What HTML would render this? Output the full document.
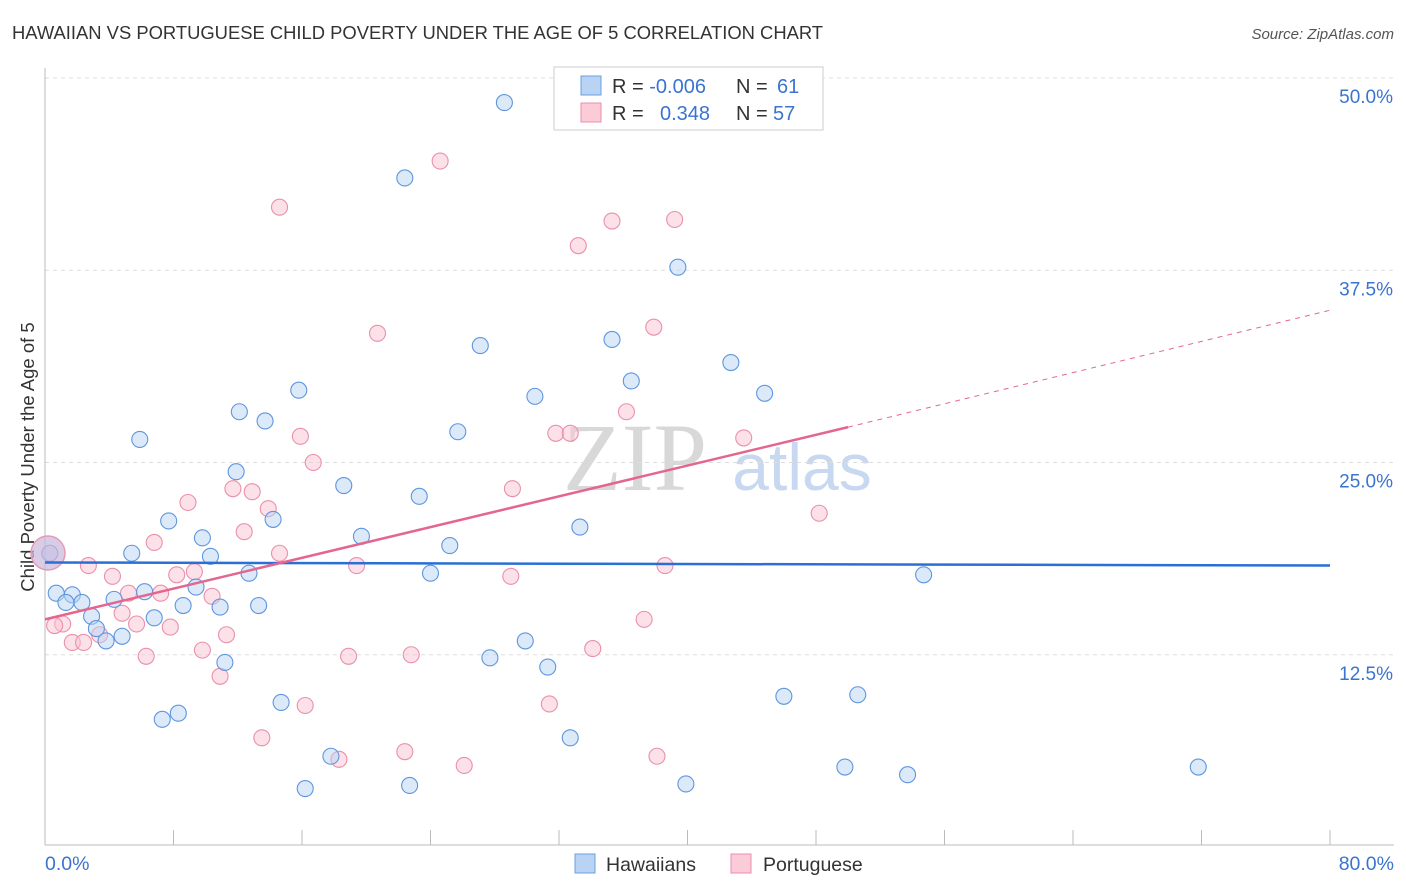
<!DOCTYPE html>
<html><head><meta charset="utf-8"><style>
body{margin:0;background:#fff;font-family:"Liberation Sans",sans-serif}
svg{display:block}
</style></head><body>
<svg id="c" width="1406" height="892" xmlns="http://www.w3.org/2000/svg">
<text x="12" y="39" font-size="18.4" fill="#333">HAWAIIAN VS PORTUGUESE CHILD POVERTY UNDER THE AGE OF 5 CORRELATION CHART</text>
<text x="1394" y="39" font-size="15" fill="#555" font-style="italic" text-anchor="end">Source: ZipAtlas.com</text>
<text x="34" y="457" font-size="18.5" fill="#333" text-anchor="middle" transform="rotate(-90 34 457)">Child Poverty Under the Age of 5</text>
<text x="635" y="490" font-size="96" fill="#d8d8d8" font-family="Liberation Serif,serif" text-anchor="middle">ZIP</text>
<text x="802" y="490" font-size="66" fill="#c8d8f0" text-anchor="middle">atlas</text>
<g id="grid"></g><g id="axes"></g><g id="pts"></g><g id="lines"></g>
<g>
<rect x="554" y="67" width="269" height="63" fill="#fff" stroke="#ccc"/>
<rect x="581" y="76" width="20" height="19" fill="#b8d3f3" stroke="#6a9fe0"/>
<rect x="581" y="103" width="20" height="19" fill="#fbcbd8" stroke="#eb8fac"/>
<text x="612" y="93" font-size="20" fill="#333">R = <tspan fill="#3a74d0">-0.006</tspan><tspan x="736">N = </tspan><tspan x="777" fill="#3a74d0">61</tspan></text>
<text x="612" y="120" font-size="20" fill="#333">R = <tspan x="660" fill="#3a74d0">0.348</tspan><tspan x="736">N = </tspan><tspan x="773" fill="#3a74d0">57</tspan></text>
</g>
<g>
<rect x="575" y="854" width="20" height="19" fill="#b8d3f3" stroke="#6a9fe0"/>
<text x="606" y="871" font-size="19.5" fill="#333">Hawaiians</text>
<rect x="731" y="854" width="20" height="19" fill="#fbcbd8" stroke="#eb8fac"/>
<text x="763" y="871" font-size="19.5" fill="#333">Portuguese</text>
</g>
</svg>
<script>
const yTicks=[12.5,25,37.5,50];
const yTickLabels=["12.5%","25.0%","37.5%","50.0%"];
const xLabels=["0.0%","80.0%"];
const blueX=[28.6,22.4,39.4,27.1,35.3,42.7,36.5,15.8,30.5,44.8,12.1,13.7,25.7,5.9,11.9,18.6,23.3,7.7,14.2,19.7,33.3,9.8,5.4,10.3,25.2,0.3,12.7,24.0,54.7,0.7,1.7,6.2,1.3,2.3,4.3,9.4,8.6,10.9,13.3,2.9,6.8,3.2,4.8,3.8,29.9,27.7,31.3,11.2,14.7,46.0,50.6,8.3,7.3,32.7,17.8,49.8,53.7,71.8,16.2,22.7,39.9];
const blueY=[48.4,43.5,37.7,32.6,33.0,31.5,30.3,29.7,29.3,29.5,28.3,27.7,27.0,26.5,24.4,23.5,22.8,21.2,21.3,20.2,20.8,20.1,19.1,18.9,19.6,19.1,17.8,17.8,17.7,16.5,16.4,16.6,15.9,15.9,16.1,16.9,15.7,15.6,15.7,15.0,14.9,14.2,13.7,13.4,13.4,12.3,11.7,12.0,9.4,9.8,9.9,8.7,8.3,7.1,5.9,5.2,4.7,5.2,3.8,4.0,4.1];
const pinkX=[24.6,14.6,35.3,39.2,33.2,20.7,37.9,36.2,15.9,31.8,32.7,43.5,16.7,8.9,11.7,12.9,29.1,48.2,13.9,12.4,6.8,14.6,2.7,19.4,38.6,4.2,8.2,9.3,29.0,5.2,7.2,10.4,4.8,1.1,0.6,5.7,7.8,3.4,11.3,1.7,2.4,9.8,34.1,37.3,6.3,18.9,22.8,10.9,16.2,31.4,13.5,22.4,18.3,26.1,38.1];
const pinkY=[44.6,41.6,40.7,40.8,39.1,33.4,33.8,28.3,26.7,26.9,26.9,26.6,25.0,22.4,23.3,23.1,23.3,21.7,22.0,20.5,19.8,19.1,18.3,18.3,18.3,17.6,17.7,17.9,17.6,16.5,16.5,16.3,15.2,14.5,14.4,14.5,14.3,13.8,13.8,13.3,13.3,12.8,12.9,14.8,12.4,12.4,12.5,11.1,9.2,9.3,7.1,6.2,5.7,5.3,5.9];
const blueLine=[18.5,18.3];
const pinkLine=[14.8,27.3,34.9];
const pinkLineX=[0,50,80];
const X0=45,X1=1330,Y0=847,PY=15.38;
const sx=v=>X0+v*(X1-X0)/80, sy=v=>Y0-v*PY;
const NS="http://www.w3.org/2000/svg";
function mk(p,t,a){const e=document.createElementNS(NS,t);for(const k in a)e.setAttribute(k,a[k]);document.getElementById(p).appendChild(e);return e;}
yTicks.forEach((v,i)=>{
 const g=mk('grid','line',{x1:X0,x2:1394,y1:sy(v),y2:sy(v),stroke:'#ddd','stroke-dasharray':'4,4'});
 
 
 const t=mk('grid','text',{x:1393,y:sy(v)+25,'font-size':19,fill:'#3a74d0','text-anchor':'end'});
 t.textContent=yTickLabels[i];
 
 
});
const ax=mk('axes','line',{x1:X0,x2:X0,y1:68,y2:845,stroke:'#bbb'});


const bx=mk('axes','line',{x1:X0,x2:1394,y1:845,y2:845,stroke:'#bbb'});


for(let i=0;i<=10;i++){
 const t=mk('axes','line',{x1:sx(i*8),x2:sx(i*8),y1:830,y2:845,stroke:'#bbb'});
 
 
}
[[0,'start',45],[80,'end',1394]].forEach((d,i)=>{
 const t=mk('axes','text',{x:d[2],y:870,'font-size':19.5,fill:'#3a74d0','text-anchor':d[1]});
 t.textContent=xLabels[i];
 
 
});
function pts(xs,ys,fill,stroke,name){
 xs.forEach((x,i)=>{
  const c=mk('pts','circle',{cx:sx(x),cy:sy(ys[i]),r:8,fill:fill,'fill-opacity':0.5,stroke:stroke,'stroke-width':1.1});
  
  
 });
}
pts(pinkX,pinkY,'#f9c3d2','#eb8fac','point-portuguese');
pts(blueX,blueY,'#b8d3f3','#5e96de','point-hawaiians');
const bb=mk('pts','circle',{cx:48,cy:553,r:17,fill:'#c9b6dc','fill-opacity':0.7,stroke:'#e79ab4','stroke-width':1.5});


const bl=mk('lines','line',{x1:sx(0),x2:sx(80),y1:sy(blueLine[0]),y2:sy(blueLine[1]),stroke:'#2a6fd6','stroke-width':2.5});


const pl=mk('lines','line',{x1:sx(pinkLineX[0]),x2:sx(pinkLineX[1]),y1:sy(pinkLine[0]),y2:sy(pinkLine[1]),stroke:'#e4668f','stroke-width':2.5});


const pd=mk('lines','line',{x1:sx(pinkLineX[1]),x2:sx(pinkLineX[2]),y1:sy(pinkLine[1]),y2:sy(pinkLine[2]),stroke:'#e4668f','stroke-width':1,'stroke-dasharray':'5,5'});


</script>
</body></html>
